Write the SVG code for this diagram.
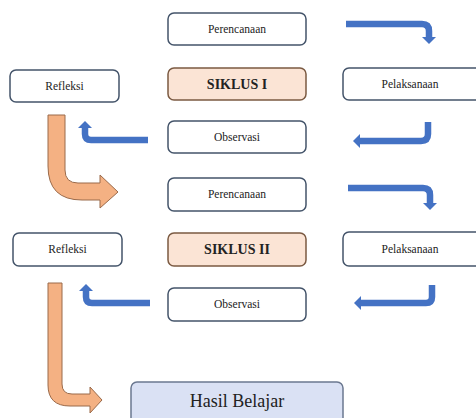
<svg xmlns="http://www.w3.org/2000/svg" width="476" height="418" viewBox="0 0 476 418">
<style>
.box{fill:#fff;stroke:#44546a;stroke-width:1.5}
.sik{fill:#fbe4d5;stroke:#7b5a42;stroke-width:1.5}
.hasil{fill:#dae1f4;stroke:#6b7890;stroke-width:1.5}
.blue{fill:none;stroke:#4472c4;stroke-width:6.5}
.orange{fill:#f4b183;stroke:#9a6a4a;stroke-width:1}
</style>
<defs>
<marker id="ah" markerUnits="userSpaceOnUse" markerWidth="14" markerHeight="14" refX="1" refY="7" orient="auto">
<path d="M1,0 L8,7 L1,14 Z" fill="#4472c4"/>
</marker>
</defs>
<rect width="476" height="418" fill="#fff"/>
<g id="connectors">
<path class="blue" d="M346,24 L422,24 Q429,24 429,31 L429,37" marker-end="url(#ah)"/>
<path class="blue" d="M428,122 L428,134 Q428,141 421,141 L360,141" marker-end="url(#ah)"/>
<path class="blue" d="M148,140 L91,140 Q85,140 85,134 L85,128" marker-end="url(#ah)"/>
<path class="blue" d="M348,188 L423,188 Q430,188 430,195 L430,203" marker-end="url(#ah)"/>
<path class="blue" d="M432,285 L432,297 Q432,303 426,303 L361,303" marker-end="url(#ah)"/>
<path class="blue" d="M150,303 L92,303 Q86,303 86,297 L86,291" marker-end="url(#ah)"/>
<path class="orange" d="M48,115 L65,115 L65,170 Q65,183 78,183 L100,183 L100,175 L118,192 L100,208 L100,200 L82,200 Q48,200 48,166 Z"/>
<path class="orange" d="M48,283 L62,283 L62,384 Q62,394 72,394 L90,394 L90,387 L102,400 L90,413 L90,406 L70,406 Q48,406 48,385 Z"/>
</g>
<g font-family="Liberation Serif, DejaVu Serif, serif" fill="#222" text-anchor="middle">
<g id="perencanaan1"><rect class="box" x="168" y="13" width="138" height="32" rx="6"/><text x="237" y="33" font-size="11.5">Perencanaan</text></g>
<g id="siklus1"><rect class="sik" x="168" y="68" width="138" height="32" rx="6"/><text x="237" y="89" font-size="14" font-weight="bold">SIKLUS I</text></g>
<g id="refleksi1"><rect class="box" x="10" y="70" width="109" height="32" rx="6"/><text x="64.500" y="90" font-size="11.5">Refleksi</text></g>
<g id="pelaksanaan1"><rect class="box" x="343" y="68" width="140" height="32" rx="6"/><text x="410" y="88" font-size="11.5">Pelaksanaan</text></g>
<g id="observasi1"><rect class="box" x="168" y="121" width="138" height="32" rx="6"/><text x="237" y="141" font-size="11.5">Observasi</text></g>
<g id="perencanaan2"><rect class="box" x="168" y="178" width="138" height="33" rx="6"/><text x="237" y="198" font-size="11.5">Perencanaan</text></g>
<g id="siklus2"><rect class="sik" x="168" y="233" width="138" height="33" rx="6"/><text x="237" y="254" font-size="14" font-weight="bold">SIKLUS II</text></g>
<g id="refleksi2"><rect class="box" x="13" y="233" width="109" height="33" rx="6"/><text x="67.500" y="253" font-size="11.5">Refleksi</text></g>
<g id="pelaksanaan2"><rect class="box" x="343" y="232" width="140" height="34" rx="6"/><text x="410" y="253" font-size="11.5">Pelaksanaan</text></g>
<g id="observasi2"><rect class="box" x="168" y="288" width="138" height="33" rx="6"/><text x="237" y="308" font-size="11.5">Observasi</text></g>
<g id="hasil"><rect class="hasil" x="131" y="382" width="212" height="44" rx="6"/><text x="237" y="407" font-size="18">Hasil Belajar</text></g>
</g>
</svg>
